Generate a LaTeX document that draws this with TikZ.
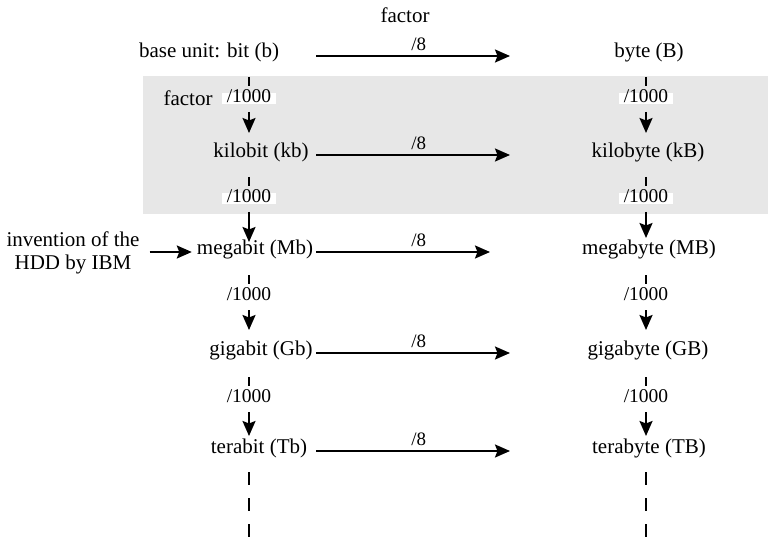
\documentclass[tikz,border=0pt]{standalone}
\usepackage{fontspec}
\setmainfont{Liberation Serif}
\usetikzlibrary{arrows.meta,calc}
\definecolor{panel}{gray}{0.905}
\begin{document}
\begin{tikzpicture}[x=1pt,y=-1pt,
  unit/.style={inner sep=0pt, font=\fontsize{21}{23}\selectfont, text height=0.7em, text depth=0.22em},
  note/.style={inner sep=0pt, font=\fontsize{21}{23}\selectfont, align=center},
  conv/.style={-{Stealth[length=15pt,width=13pt,inset=2.5pt]}, line width=2pt},
  step1000/.style={conv, dash pattern=on 9pt off 26pt on 400pt},
  rate/.style={inner xsep=4.5pt, inner ysep=2pt, fill=white, font=\fontsize{19.5}{21}\selectfont, text height=0.68em, text depth=0.02em},
  eight/.style={above=4pt, inner sep=0pt, font=\fontsize{19}{21}\selectfont},
  tail/.style={line width=2pt, dash pattern=on 13pt off 13pt},
]
\useasboundingbox (0,0) rectangle (768,540);
% shaded band around the kilo level
\fill[panel] (143,76) rectangle (768,214);

% column and arrow guides
\coordinate (colL) at (249,0);
\coordinate (colR) at (646,0);
\coordinate (hs) at (316,0);
\coordinate (he) at (510,0);
\coordinate (heM) at (490,0);
\coordinate (bot) at (0,540);

% captions
\node[note] (topf) at (405,15) {factor};
\node[note] (sidef) at (188,98) {factor};
\node[note] (inv) at (73,253) {invention of the\\HDD by IBM};

% bit units
\node[unit] (b)  at (209,55)  {base unit: bit (b)};
\node[unit] (kb) at (261,155) {kilobit (kb)};
\node[unit] (Mb) at (255,252) {megabit (Mb)};
\node[unit] (Gb) at (261,353) {gigabit (Gb)};
\node[unit] (Tb) at (259,451) {terabit (Tb)};

% byte units
\node[unit] (B)  at (649,55)  {byte (B)};
\node[unit] (kB) at (648,155) {kilobyte (kB)};
\node[unit] (MB) at (649,252) {megabyte (MB)};
\node[unit] (GB) at (648,353) {gigabyte (GB)};
\node[unit] (TB) at (649,451) {terabyte (TB)};

% bit -> byte conversions
\draw[conv] ($(b.east -| hs)+(0,1)$) -- node[eight, pos=0.53]{/8} ($(B.west -| he)+(0,1)$);
\draw[conv] (kb.east -| hs) -- node[eight, pos=0.53]{/8} (kB.west -| he);
\draw[conv] (Mb.east -| hs) -- node[eight, pos=0.59]{/8} (MB.west -| heM);
\draw[conv] (Gb.east -| hs) -- node[eight, pos=0.53]{/8} (GB.west -| he);
\draw[conv] (Tb.east -| hs) -- node[eight, pos=0.53]{/8} (TB.west -| he);

% HDD milestone
\draw[conv, shorten <=10pt, shorten >=5pt] (inv.east |- Mb) -- (Mb.west);

% prefix steps, bit column
\draw[step1000] ($(colL |- b)+(0,22)$)  -- node[rate, at start, yshift=-22pt]{/1000} ($(colL |- kb)+(0,-22)$);
\draw[step1000] ($(colL |- kb)+(0,22)$) -- node[rate, at start, yshift=-22pt]{/1000} ($(colL |- Mb)+(0,-10)$);
\draw[step1000] ($(colL |- Mb)+(0,23)$) -- node[rate, at start, yshift=-22pt]{/1000} ($(colL |- Gb)+(0,-23)$);
\draw[step1000] ($(colL |- Gb)+(0,24)$) -- node[rate, at start, yshift=-22pt]{/1000} ($(colL |- Tb)+(0,-15)$);
\draw[tail] ($(colL |- Tb)+(0,21)$) -- (colL |- bot);

% prefix steps, byte column
\draw[step1000] ($(colR |- B)+(0,22)$)  -- node[rate, at start, yshift=-22pt]{/1000} ($(colR |- kB)+(0,-22)$);
\draw[step1000] ($(colR |- kB)+(0,22)$) -- node[rate, at start, yshift=-22pt]{/1000} ($(colR |- MB)+(0,-14)$);
\draw[step1000] ($(colR |- MB)+(0,23)$) -- node[rate, at start, yshift=-22pt]{/1000} ($(colR |- GB)+(0,-23)$);
\draw[step1000] ($(colR |- GB)+(0,24)$) -- node[rate, at start, yshift=-22pt]{/1000} ($(colR |- TB)+(0,-15)$);
\draw[tail] ($(colR |- TB)+(0,21)$) -- (colR |- bot);
\end{tikzpicture}
\end{document}
